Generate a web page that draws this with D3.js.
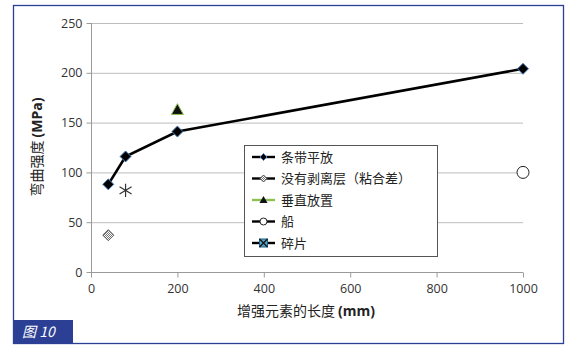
<!DOCTYPE html>
<html>
<head>
<meta charset="utf-8">
<script src="https://cdn.jsdelivr.net/npm/d3@7"></script>
<style>
  body { margin: 0; background: #fff; }
  text { font-family: "Open Sans", "Noto Sans CJK SC", sans-serif; }
</style>
</head>
<body>
<div id="container"></div>
<script>
// data
const flatX = [40, 80, 200, 1000];
const flatY = [88, 116, 141, 204];
const noPeelX = [40];
const noPeelY = [37];
const verticalX = [200];
const verticalY = [163];
const boatX = [1000];
const boatY = [100];
const chipX = [80];
const chipY = [82];
const xTicks = [0, 200, 400, 600, 800, 1000];
const yTicks = [0, 50, 100, 150, 200, 250];
const legendNames = ["条带平放", "没有剥离层（粘合差）", "垂直放置", "船", "碎片"];

const W = 574, H = 351;
const CJK = '"Noto Sans CJK SC", sans-serif';

const svg = d3.select("#container").append("svg")
  .attr("width", W).attr("height", H);

const defs = svg.append("defs");
const pat = defs.append("pattern").attr("id", "hatch")
  .attr("width", 2).attr("height", 2).attr("patternUnits", "userSpaceOnUse");
pat.append("rect").attr("width", 2).attr("height", 2).attr("fill", "#fff");
pat.append("rect").attr("width", 1).attr("height", 1).attr("fill", "#777");
pat.append("rect").attr("x", 1).attr("y", 1).attr("width", 1).attr("height", 1).attr("fill", "#777");

// outer frame
svg.append("rect").attr("x", 13.5).attr("y", 5.5).attr("width", 550).attr("height", 338)
  .attr("fill", "none").attr("stroke", "#2b3f94").attr("stroke-width", 1.3);

const x = d3.scaleLinear().domain([0, 1000]).range([91, 523]);
const y = d3.scaleLinear().domain([0, 250]).range([272, 23]);

// gridlines
svg.append("g").selectAll("line").data(yTicks.filter(d => d > 0)).join("line")
  .attr("x1", x(0)).attr("x2", x(1000))
  .attr("y1", d => y(d) + 0.5).attr("y2", d => y(d) + 0.5)
  .attr("stroke", "#bdbdbd").attr("stroke-width", 1);

const yAxis = svg.append("g").attr("transform", `translate(${x(0) + 0.5},0)`)
  .call(d3.axisLeft(y).tickValues(yTicks).tickFormat(d3.format("d")).tickSize(5).tickPadding(4));
const xAxis = svg.append("g").attr("transform", `translate(0,${y(0) + 0.5})`)
  .call(d3.axisBottom(x).tickValues(xTicks).tickFormat(d3.format("d")).tickSize(5).tickPadding(7));
[xAxis, yAxis].forEach(a => {
  a.selectAll(".domain, line").attr("stroke", "#9a9a9a");
  a.selectAll("text").attr("font-size", 12.5).attr("fill", "#333")
    .style("font-family", '"Open Sans", sans-serif');
});
yAxis.select(".domain").attr("d", `M0,${y(250)}V${y(0)}`);
xAxis.select(".domain").attr("d", `M${x(0)},0H${x(1000)}`);

// axis titles
const xt = svg.append("text").attr("x", 306).attr("y", 316).attr("text-anchor", "middle")
  .attr("font-size", 14).attr("fill", "#222");
xt.append("tspan").style("font-family", CJK).text("增强元素的长度 ");
xt.append("tspan").attr("font-weight", "bold").text("(mm)");
const yt = svg.append("text").attr("transform", "translate(42,147) rotate(-90)")
  .attr("text-anchor", "middle").attr("font-size", 14).attr("fill", "#222");
yt.append("tspan").style("font-family", CJK).text("弯曲强度 ");
yt.append("tspan").attr("font-weight", "bold").text("(MPa)");

// markers
function diamond(g, cx, cy, r, fill, stroke) {
  g.append("path").attr("d", `M${cx},${cy - r}L${cx + r},${cy}L${cx},${cy + r}L${cx - r},${cy}Z`)
    .attr("fill", fill).attr("stroke", stroke).attr("stroke-width", 1);
}
function triangle(g, cx, cy, r) {
  g.append("path").attr("d", `M${cx},${cy - r}L${cx + r},${cy + r * 0.8}L${cx - r},${cy + r * 0.8}Z`)
    .attr("fill", "#111").attr("stroke", "#8cc152").attr("stroke-width", 1);
}
function star(g, cx, cy, r) {
  g.append("path").attr("d", `M${cx - r},${cy - r * 0.6}L${cx + r},${cy + r * 0.6}M${cx + r},${cy - r * 0.6}L${cx - r},${cy + r * 0.6}M${cx},${cy - r * 1.1}L${cx},${cy + r * 1.1}`)
    .attr("stroke", "#333").attr("stroke-width", 1.2).attr("fill", "none");
}

// series 1 line
const line = d3.line().x(d => x(d[0])).y(d => y(d[1]));
svg.append("path").datum(d3.zip(flatX, flatY)).attr("d", line)
  .attr("fill", "none").attr("stroke", "#000").attr("stroke-width", 2.6);
const pts = svg.append("g");
flatX.forEach((v, i) => diamond(pts, x(v), y(flatY[i]), 5.5, "#000", "#4a7fc1"));
noPeelX.forEach((v, i) => diamond(pts, x(v), y(noPeelY[i]), 5.5, "url(#hatch)", "#555"));
verticalX.forEach((v, i) => triangle(pts, x(v), y(verticalY[i]), 6));
boatX.forEach((v, i) => pts.append("circle").attr("cx", x(v)).attr("cy", y(boatY[i])).attr("r", 6)
  .attr("fill", "#fff").attr("stroke", "#222").attr("stroke-width", 1));
chipX.forEach((v, i) => star(pts, x(v), y(chipY[i]), 6));

// legend
const lg = svg.append("g");
lg.append("rect").attr("x", 244.5).attr("y", 145.5).attr("width", 193).attr("height", 111)
  .attr("fill", "#fff").attr("stroke", "#555").attr("stroke-width", 1);
const ly = d3.scalePoint().domain(legendNames).range([157, 243]);
legendNames.forEach((name, i) => {
  const cy = ly(name);
  const col = i === 2 ? "#8cc152" : "#000";
  lg.append("line").attr("x1", 252).attr("x2", 275).attr("y1", cy).attr("y2", cy)
    .attr("stroke", col).attr("stroke-width", 2.4);
  const cx = 263.5;
  if (i === 0) diamond(lg, cx, cy, 3.5, "#000", "#4a7fc1");
  if (i === 1) diamond(lg, cx, cy, 3.5, "url(#hatch)", "#555");
  if (i === 2) lg.append("path").attr("d", `M${cx},${cy - 4}L${cx + 4},${cy + 3}L${cx - 4},${cy + 3}Z`).attr("fill", "#111");
  if (i === 3) lg.append("circle").attr("cx", cx).attr("cy", cy).attr("r", 3.5).attr("fill", "#fff").attr("stroke", "#222");
  if (i === 4) {
    lg.append("rect").attr("x", cx - 4).attr("y", cy - 4).attr("width", 8).attr("height", 8).attr("fill", "#5aa6c8").attr("stroke", "#1f5f8a");
    lg.append("path").attr("d", `M${cx - 4},${cy - 4}L${cx + 4},${cy + 4}M${cx + 4},${cy - 4}L${cx - 4},${cy + 4}`).attr("stroke", "#111").attr("stroke-width", 1.2);
  }
  lg.append("text").attr("x", 281).attr("y", cy).attr("dy", "0.35em")
    .attr("font-size", 13).attr("fill", "#222").style("font-family", CJK).text(name);
});

// figure label
svg.append("rect").attr("x", 13).attr("y", 320).attr("width", 60).attr("height", 23).attr("fill", "#2b3f94");
svg.append("text").attr("x", 22).attr("y", 337).attr("font-size", 14).attr("font-style", "italic")
  .attr("fill", "#fff").style("font-family", CJK).text("图 10");
</script>
</body>
</html>
